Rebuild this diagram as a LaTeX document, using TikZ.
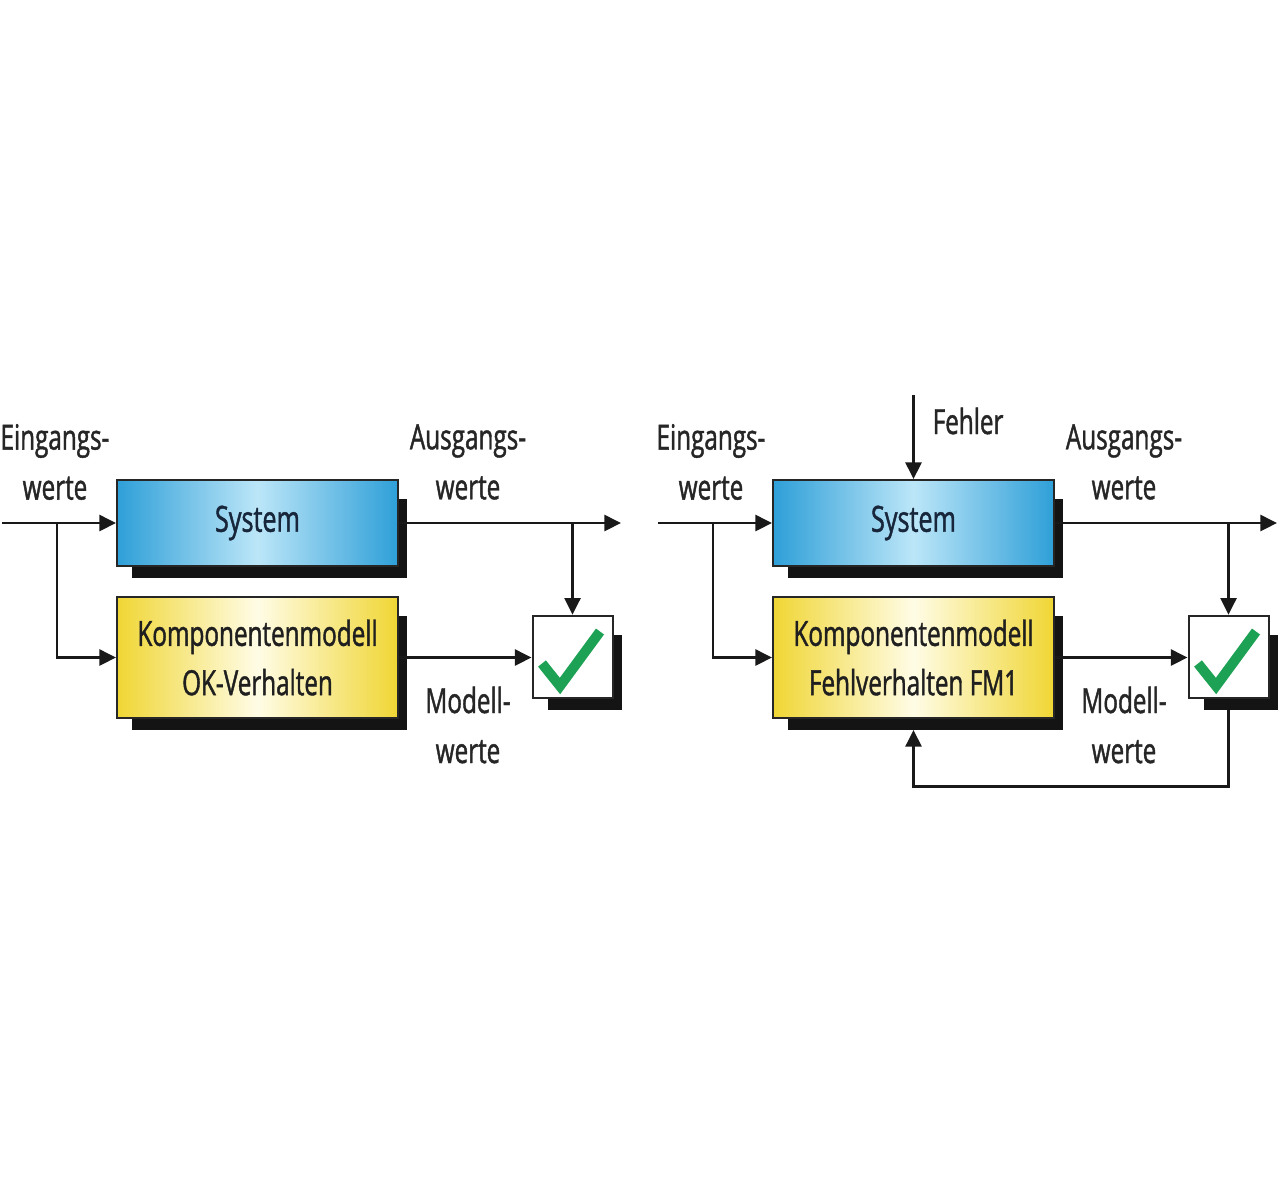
\documentclass[tikz,border=0pt]{standalone}
\usepackage{fontspec}
\setmainfont{Open Sans}[FakeStretch=0.7,FakeBold=1.2]
\usetikzlibrary{arrows.meta,backgrounds,calc}
\definecolor{blueedge}{HTML}{2E9FD8}
\definecolor{bluemid}{HTML}{BCE6F8}
\definecolor{yellowedge}{HTML}{F0D634}
\definecolor{yellowmid}{HTML}{FFFCE6}
\definecolor{checkgreen}{HTML}{1DA154}
\definecolor{labelgray}{HTML}{262626}
\definecolor{systext}{HTML}{17263A}
\begin{document}
\begin{tikzpicture}[x=0.75pt,y=-0.75pt,
  conn/.style={line width=2pt, draw=black!90},
  arr/.style={conn, -{Triangle[length=12.5pt,width=12pt]}},
  lbl/.style={align=center, text=labelgray, font=\fontsize{26}{37.5}\selectfont},
  sysbox/.style={draw=black!85, line width=1.5pt, inner sep=0pt,
    minimum width=210.75pt, minimum height=64.5pt,
    left color=blueedge, right color=blueedge, middle color=bluemid,
    text=systext, font=\fontsize{27}{37.5}\selectfont},
  kompbox/.style={draw=black!85, line width=1.5pt, inner sep=0pt, align=center,
    minimum width=210.75pt, minimum height=90.75pt,
    left color=yellowedge, right color=yellowedge, middle color=yellowmid,
    text=black!88, font=\fontsize{26}{37}\selectfont},
  chkbox/.style={draw=black!85, line width=1.5pt, fill=white, inner sep=0pt,
    minimum width=60pt, minimum height=62pt},
  tick/.style={draw=checkgreen, line width=7.5pt, line join=miter, line cap=butt}
]
\useasboundingbox (0,0) rectangle (1280,1190);

% ---------- left diagram ----------
\node[sysbox] (sysL) at (257.5,523) {System};
\node[kompbox] (kompL) at (257.5,657.5) {Komponentenmodell\\OK-Verhalten};
\node[chkbox] (chkL) at (572.5,657) {};
\draw[tick] ($(chkL)+(-30.5,6.5)$) -- ($(chkL)+(-12.5,29)$) -- ($(chkL)+(27.5,-25.5)$);

\node[lbl] (einL) at (55,462) {Eingangs-\\werte};
\node[lbl] (ausL) at (468,462) {Ausgangs-\\werte};
\node[lbl] (modL) at (468,725) {Modell-\\werte};

\coordinate (inL) at (2,523);
\coordinate (brL) at (57,523);
\coordinate (outL) at (621,523);
\draw[arr] (inL) -- (sysL.west);
\draw[arr] (brL) |- (kompL.west);
\draw[arr] (sysL.east) -- (outL);
\draw[arr] (sysL.east -| chkL.north) -- (chkL.north);
\draw[arr] (kompL.east) -- (kompL.east -| chkL.west);

% ---------- right diagram ----------
\node[sysbox] (sysR) at (913.5,523) {System};
\node[kompbox] (kompR) at (913.5,657.5) {Komponentenmodell\\Fehlverhalten FM1};
\node[chkbox] (chkR) at (1228.5,657) {};
\draw[tick] ($(chkR)+(-30.5,6.5)$) -- ($(chkR)+(-12.5,29)$) -- ($(chkR)+(27.5,-25.5)$);

\node[lbl] (einR) at (711,462) {Eingangs-\\werte};
\node[lbl] (ausR) at (1124,462) {Ausgangs-\\werte};
\node[lbl] (modR) at (1124,725) {Modell-\\werte};
\node[lbl, anchor=west] (fehler) at (928,421) {Fehler};

\coordinate (inR) at (658,523);
\coordinate (brR) at (713,523);
\coordinate (outR) at (1277,523);
\coordinate (fehR) at (913.5,395);
\draw[arr] (inR) -- (sysR.west);
\draw[arr] (brR) |- (kompR.west);
\draw[arr] (sysR.east) -- (outR);
\draw[arr] (sysR.east -| chkR.north) -- (chkR.north);
\draw[arr] (kompR.east) -- (kompR.east -| chkR.west);
\draw[arr] (fehR) -- (sysR.north);
\coordinate (fbstart) at ($(chkR.south)+(0,11)$);
\coordinate (fbend) at ($(kompR.south)+(0,11)$);
\draw[arr] (fbstart) -- ++(0,76) -| (fbend);

% ---------- shadows and background ----------
\begin{scope}[on background layer]
  \fill[white] (0,0) rectangle (1280,1190);
  \foreach \n in {sysL,kompL,chkL,sysR,kompR,chkR}{
    \fill[black!92] ($(\n.south west)+(16,11)$) rectangle ($(\n.north east)+(8,20)$);
  }
\end{scope}
\end{tikzpicture}
\end{document}
